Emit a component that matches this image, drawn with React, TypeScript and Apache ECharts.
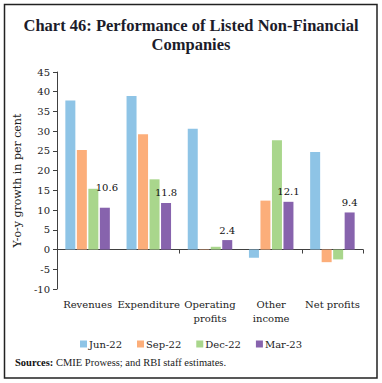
import React, { useEffect, useRef } from "react";
import * as echarts from "echarts";

const categories = ["Revenues", "Expenditure", "Operating\nprofits", "Other\nincome", "Net profits"];
const seriesNames = ["Jun-22", "Sep-22", "Dec-22", "Mar-23"];
const jun22 = [37.8, 38.9, 30.6, -2.1, 24.7];
const sep22 = [25.2, 29.2, 0.1, 12.4, -3.2];
const dec22 = [15.4, 17.8, 0.7, 27.7, -2.5];
const mar23 = [10.6, 11.8, 2.4, 12.1, 9.4];
const colors = ["#8EC4E6", "#FCAE7A", "#A9D68C", "#8763AD"];
const yTicks = { min: -10, max: 45, interval: 5 };

const FONT = "'DejaVu Serif', 'Liberation Serif', serif";
const TFONT = "'Liberation Serif', 'DejaVu Serif', serif";

export default function App() {
  const ref = useRef<HTMLDivElement>(null);
  useEffect(() => {
    if (!ref.current) return;
    const chart = echarts.init(ref.current, undefined, { renderer: "svg" });
    const dataSets = [jun22, sep22, dec22, mar23];
    const series = dataSets.map((d, i) => ({
      name: seriesNames[i],
      type: "bar",
      xAxisIndex: 0,
      barWidth: 10,
      barGap: "15%",
      itemStyle: { color: colors[i] },
      data:
        i === 3
          ? d.map((v, j) => (j === 0 ? { value: v, label: { offset: [2, -10] } } : v))
          : d,
      label:
        i === 3
          ? {
              show: true,
              position: "top",
              distance: 5,
              fontFamily: FONT,
              fontSize: 10,
              color: "#111",
              formatter: (p: any) => Number(p.value).toFixed(1),
            }
          : { show: false },
    }));
    chart.setOption({
      animation: false,
      title: {
        text: "Chart 46: Performance of Listed Non-Financial\nCompanies",
        left: "center",
        top: 11,
        textStyle: {
          fontFamily: TFONT,
          fontSize: 16.5,
          fontWeight: "bold",
          color: "#1c1c2a",
          lineHeight: 19,
        },
      },
      legend: {
        data: seriesNames,
        top: 334,
        left: "center",
        icon: "rect",
        itemWidth: 7,
        itemHeight: 7,
        itemGap: 15,
        textStyle: { fontFamily: FONT, fontSize: 10, color: "#222", padding: [0, 0, 0, -3] },
      },
      grid: { left: 57, right: 19, top: 72, bottom: 94, containLabel: false },
      xAxis: [
        {
          type: "category",
          data: categories,
          position: "bottom",
          axisLine: { onZero: true, lineStyle: { color: "#404040", width: 1 } },
          axisTick: { show: true, length: 4, lineStyle: { color: "#404040" } },
          axisLabel: { show: false },
        },
        {
          type: "category",
          data: categories,
          position: "bottom",
          axisLine: { show: false, onZero: false },
          axisTick: { show: false },
          axisLabel: {
            show: true,
            interval: 0,
            margin: 8,
            fontFamily: FONT,
            fontSize: 10,
            color: "#222",
            lineHeight: 14,
          },
        },
      ],
      yAxis: {
        type: "value",
        min: yTicks.min,
        max: yTicks.max,
        interval: yTicks.interval,
        name: "Y-o-y growth in per cent",
        nameLocation: "middle",
        nameGap: 27,
        nameTextStyle: { fontFamily: FONT, fontSize: 11, color: "#222" },
        axisLine: { show: true, lineStyle: { color: "#404040" } },
        axisTick: { show: true, length: 4, lineStyle: { color: "#404040" } },
        splitLine: { show: false },
        axisLabel: { fontFamily: FONT, fontSize: 10, color: "#222", margin: 7 },
      },
      graphic: [
        {
          type: "rect",
          shape: { x: 4.5, y: 4.5, width: 372.5, height: 373.5 },
          style: { fill: "none", stroke: "#222", lineWidth: 1.5 },
          silent: true,
        },
        {
          type: "text",
          left: 15,
          top: 357,
          style: {
            text: "{b|Sources:} CMIE Prowess; and RBI staff estimates.",
            rich: {
              b: { fontFamily: TFONT, fontSize: 10.5, fontWeight: "bold", fill: "#111" },
            },
            fontFamily: TFONT,
            fontSize: 10.5,
            fill: "#222",
          },
        },
      ],
      series,
    });
    return () => chart.dispose();
  }, []);
  return (
    <div
      ref={ref}
      style={{ position: "absolute", left: 0, top: 0, width: 382, height: 383, background: "#fff" }}
    />
  );
}
